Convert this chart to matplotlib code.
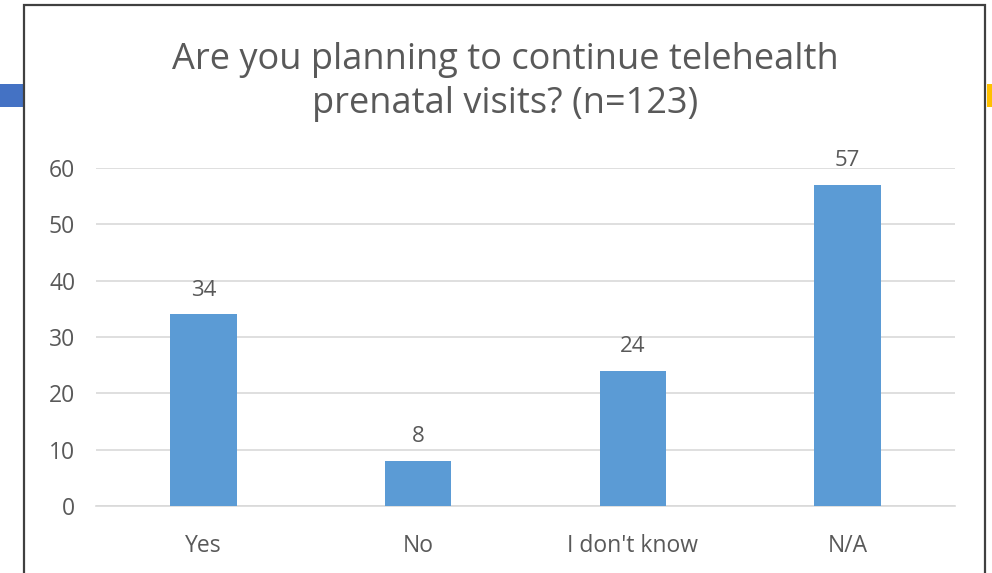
import matplotlib.pyplot as plt
from matplotlib.patches import Rectangle

categories = ['Yes', 'No', "I don't know", 'N/A']
counts = [34, 8, 24, 57]
y_ticks = [0, 10, 20, 30, 40, 50, 60]
title = 'Are you planning to continue telehealth\nprenatal visits? (n=123)'

bar_color = '#5B9BD5'
text_color = '#595959'
grid_color = '#D9D9D9'

plt.rcParams['font.family'] = ['Open Sans', 'DejaVu Sans']

fig = plt.figure(figsize=(9.92, 5.73), dpi=100)
fig.patch.set_facecolor('white')

# slide accent strips peeking out behind the chart box
fig.patches.append(Rectangle((0, 1 - 107 / 573), 24 / 992, 23 / 573,
                             transform=fig.transFigure, facecolor='#4472C4',
                             edgecolor='none', zorder=0))
fig.patches.append(Rectangle((987 / 992, 1 - 107 / 573), 5 / 992, 23 / 573,
                             transform=fig.transFigure, facecolor='#FFC000',
                             edgecolor='none', zorder=0))
# chart box
fig.patches.append(Rectangle((24 / 992, -0.05), (985 - 24) / 992, 1.05 - 5 / 573,
                             transform=fig.transFigure, facecolor='white',
                             edgecolor='#404040', linewidth=1.6, zorder=1))

ax = fig.add_axes([96 / 992, 1 - 506 / 573, (955 - 96) / 992, (506 - 168) / 573])
ax.set_zorder(2)
ax.patch.set_alpha(0)

x = range(len(categories))
bars = ax.bar(x, counts, width=0.31, color=bar_color, zorder=3)
for rect, v in zip(bars, counts):
    ax.annotate(str(v), (rect.get_x() + rect.get_width() / 2, v),
                xytext=(0, 10), textcoords='offset points', ha='center', va='bottom',
                fontsize=16, color=text_color, annotation_clip=False)

ax.set_xlim(-0.5, len(categories) - 0.5)
ax.set_ylim(0, 60)
ax.set_yticks(y_ticks)
ax.set_xticks(list(x))
ax.set_xticklabels(categories)
ax.yaxis.grid(True, color=grid_color, linewidth=1.2, zorder=0)
ax.set_axisbelow(True)
for side in ['top', 'right', 'left']:
    ax.spines[side].set_visible(False)
ax.spines['bottom'].set_color(grid_color)
ax.spines['bottom'].set_linewidth(1.2)
ax.tick_params(axis='both', length=0, labelsize=16.5, colors=text_color)
ax.tick_params(axis='y', pad=15)
ax.tick_params(axis='x', pad=20)

fig.text(505 / 992, 1 - 82 / 573, title, ha='center', va='center',
         fontsize=26, color=text_color, linespacing=1.3)

plt.savefig('out.png', dpi=100)
plt.close()
